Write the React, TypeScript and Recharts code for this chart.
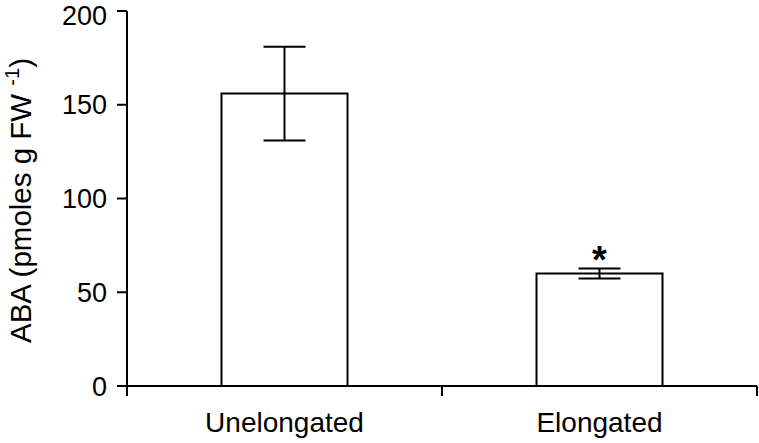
import React from "react";
import {
  BarChart,
  Bar,
  XAxis,
  YAxis,
  ErrorBar,
  LabelList,
} from "recharts";

// ABA content in unelongated vs elongated tissue, mean ± error, * = significant.

const categories = ["Unelongated", "Elongated"];
const abaValues = [156, 60];
const abaErrors = [25, 2.7];
const sigMarks = ["", "*"];
const yTicks = [0, 50, 100, 150, 200];
const edgeTicks = [0, 1, 2];

const data = categories.map((name, i) => ({
  name,
  aba: abaValues[i],
  err: abaErrors[i],
  sig: sigMarks[i],
}));

const FONT = '"Liberation Sans", Arial, sans-serif';

function YLabel(props: any) {
  const vb = props.viewBox || {};
  const cx = (vb.x ?? 0) + 31;
  const cy = (vb.y ?? 0) + (vb.height ?? 0) / 2 + 2;
  return (
    <text
      x={cx}
      y={cy}
      transform={`rotate(-90, ${cx}, ${cy})`}
      textAnchor="middle"
      fontFamily={FONT}
      fontSize={29.5}
      fill="#000"
    >
      ABA (pmoles g FW{" "}
      <tspan fontSize={20} dy={-12}>
        -1
      </tspan>
      <tspan dy={12}>)</tspan>
    </text>
  );
}

function Star(props: any) {
  const { x, y, width, value } = props;
  if (!value) return null;
  return (
    <text
      x={x + width / 2}
      y={y - 1}
      textAnchor="middle"
      fontFamily={FONT}
      fontWeight="bold"
      fontSize={38}
      fill="#000"
    >
      {value}
    </text>
  );
}

const NoTick = () => <g />;

export default function App() {
  return (
    <div style={{ position: "absolute", left: 0, top: 0, background: "#fff" }}>
      <BarChart
        width={759}
        height={443}
        data={data}
        barCategoryGap="30%"
        margin={{ top: 11, right: 2, left: 0, bottom: 0 }}
      >
        <XAxis
          xAxisId="a"
          type="number"
          dataKey="edge"
          domain={[0, 2]}
          ticks={edgeTicks}
          tick={NoTick}
          height={1}
          tickSize={10}
          stroke="#000"
          axisLine={{ stroke: "#000", strokeWidth: 2 }}
          tickLine={{ stroke: "#000", strokeWidth: 2 }}
          allowDataOverflow
        />
        <XAxis
          xAxisId="b"
          dataKey="name"
          height={56}
          axisLine={false}
          tickLine={false}
          tickSize={8}
          tickMargin={17}
          tick={{ fontSize: 28, fill: "#000", fontFamily: FONT }}
        />
        <YAxis
          domain={[0, 200]}
          ticks={yTicks}
          width={127}
          tickSize={10}
          tickMargin={10}
          axisLine={{ stroke: "#000", strokeWidth: 2 }}
          tickLine={{ stroke: "#000", strokeWidth: 2 }}
          tick={{ fontSize: 27, fill: "#000", fontFamily: FONT }}
          label={<YLabel />}
        />
        <Bar
          xAxisId="b"
          dataKey="aba"
          fill="#fff"
          stroke="#000"
          strokeWidth={2}
          isAnimationActive={false}
        >
          <ErrorBar
            dataKey="err"
            width={21}
            stroke="#000"
            strokeWidth={2}
            direction="y"
            isAnimationActive={false}
          />
          <LabelList dataKey="sig" content={<Star />} />
        </Bar>
      </BarChart>
    </div>
  );
}
